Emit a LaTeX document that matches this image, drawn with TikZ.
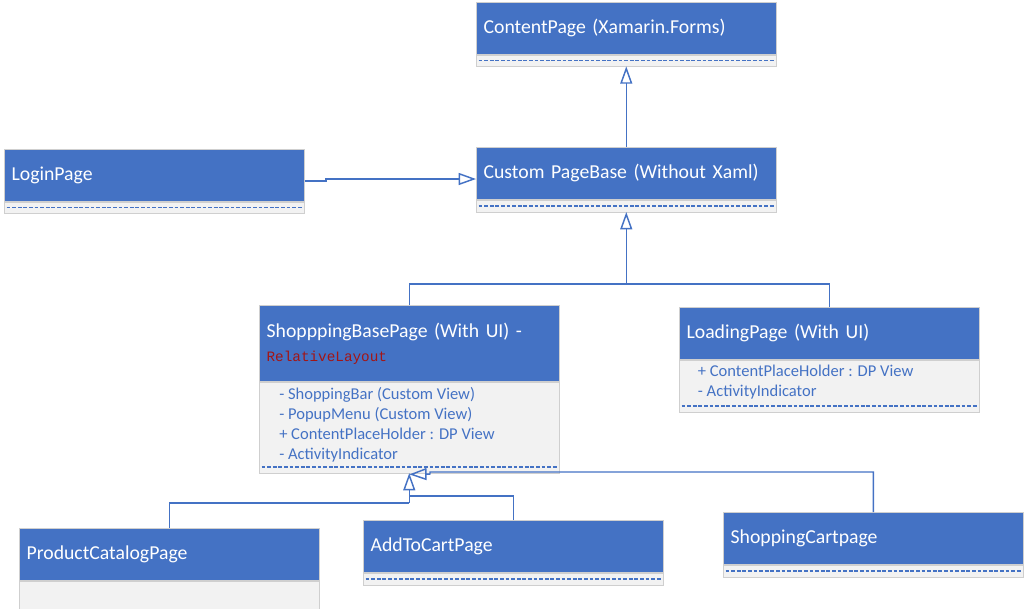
\documentclass[tikz,border=0pt]{standalone}
\usepackage{fontspec}
\setmainfont{Carlito}
\newfontfamily\codefont{Liberation Mono}
\usetikzlibrary{arrows.meta}
\definecolor{umlblue}{HTML}{4472C4}
\definecolor{bodygray}{HTML}{F2F2F2}
\definecolor{edgegray}{HTML}{CFCFCF}
\definecolor{codered}{HTML}{A31515}
\tikzset{
  classhead/.style={rectangle, draw=edgegray, fill=umlblue, text=white, anchor=north west,
    align=left, text width=214pt, inner xsep=5.5pt, minimum height=39pt,
    font=\fontsize{14.8}{18}\selectfont},
  classbody/.style={rectangle, draw=edgegray, fill=bodygray, anchor=north west,
    minimum width=225pt, inner sep=0pt},
  attrs/.style={anchor=north west, align=left, inner sep=0pt, text=umlblue,
    font=\fontsize{12.4}{15}\selectfont},
  sepline/.style={umlblue, line width=0.9pt, dash pattern=on 2.8pt off 1.4pt},
  link/.style={umlblue, line width=1.1pt},
  inherit/.style={link, -{Triangle[open, length=13pt, width=9pt]}},
}
\begin{document}
\begin{tikzpicture}[x=0.75pt,y=-0.75pt]
  \useasboundingbox (0,0) rectangle (1024,608);
  % classes: blue head, grey body below it
  \node[classhead] (content) at (476,2) {ContentPage (Xamarin.Forms)};
  \node[classbody, minimum height=8.5pt] (content-b) at (content.south west) {};
  \node[classhead] (login) at (4,149) {LoginPage};
  \node[classbody, minimum height=8.5pt] (login-b) at (login.south west) {};
  \node[classhead] (custom) at (476,147) {Custom PageBase (Without Xaml)};
  \node[classbody, minimum height=9pt] (custom-b) at (custom.south west) {};
  \node[classhead, minimum height=57pt] (shopbase) at (259,305)
    {ShopppingBasePage (With UI) -\\{\codefont\fontsize{10.75}{13}\selectfont\color{codered}RelativeLayout}};
  \node[classbody, minimum height=68.25pt] (shopbase-b) at (shopbase.south west) {};
  \node[attrs] (shopbase-a) at ([xshift=15pt,yshift=-4pt]shopbase-b.north west)
    {- ShoppingBar (Custom View)\\- PopupMenu (Custom View)\\+ ContentPlaceHolder : DP View\\- ActivityIndicator};
  \node[classhead] (loading) at (679,307) {LoadingPage (With UI)};
  \node[classbody, minimum height=39pt] (loading-b) at (loading.south west) {};
  \node[attrs] (loading-a) at ([xshift=14pt,yshift=-4pt]loading-b.north west)
    {+ ContentPlaceHolder : DP View\\- ActivityIndicator};
  \node[classhead] (product) at (19,528) {ProductCatalogPage};
  \node[classbody, minimum height=21pt] (product-b) at (product.south west) {};
  \node[classhead] (addcart) at (363,520) {AddToCartPage};
  \node[classbody, minimum height=9pt] (addcart-b) at (addcart.south west) {};
  \node[classhead] (cart) at (723,512) {ShoppingCartpage};
  \node[classbody, minimum height=9pt] (cart-b) at (cart.south west) {};
  \foreach \b in {content-b,login-b,custom-b,shopbase-b,loading-b,addcart-b,cart-b} % dashed rule in body
    \draw[sepline] ([xshift=2pt,yshift=4.5pt]\b.south west) -- ([xshift=-2pt,yshift=4.5pt]\b.south east);

  % generalisation links
  \draw[inherit] (custom.north) -- (content-b.south);
  \coordinate (loginjog) at (326,181);
  \draw[inherit] (login.east |- loginjog) -- (loginjog) -- ++(0,-2) -- (custom.west |- 0,179);
  \coordinate (basejoin) at (custom-b.south |- 0,284);
  \draw[link] (shopbase.north) |- (basejoin);
  \draw[link] (loading.north) |- (basejoin);
  \draw[inherit] (basejoin) -- (custom-b.south);
  \coordinate (pagejoin) at (shopbase-b.south |- 0,503);
  \draw[link] (product.north) |- (pagejoin);
  \draw[link] (addcart.north) |- (shopbase-b.south |- 0,496);
  \draw[inherit] (pagejoin) -- (shopbase-b.south);
  \draw[inherit] (cart.north) |- (430,472) -- ++(0,2) -- ([yshift=-1pt]shopbase-b.south);
\end{tikzpicture}
\end{document}
